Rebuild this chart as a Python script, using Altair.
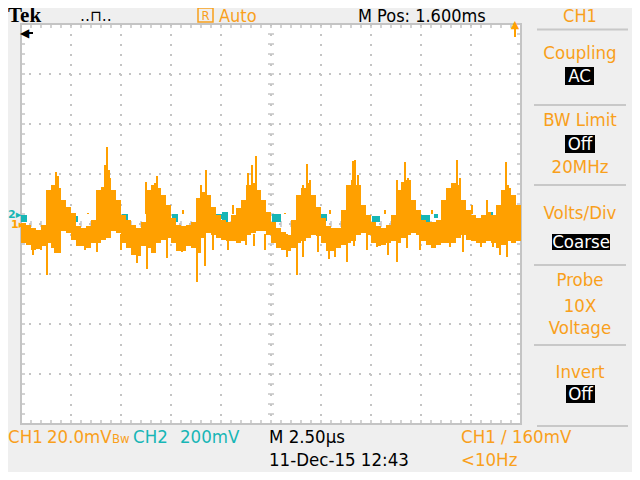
import altair as alt
import pandas as pd

# ---------------- data (CH1 in mV, time in microseconds) ----------------
# body of the CH1 trace, one column every 0.25 us (0 .. 25 us)
col_start = [i * 0.25 for i in range(100)]
body_hi = [0.4, -0.4, -1.6, -2.4, -0.4, 13.6, 15.6, 14.4, 9.6, 6.8,
           4.4, -0.8, -1.6, -0.8, 1.6, 13.6, 14.8, 18.4, 13.6, 9.6,
           3.6, 1.6, -0.4, -1.6, 0.8, 13.6, 15.6, 14.4, 11.6, 7.6,
           2.4, -0.4, -0.8, -0.4, 0.8, 10.4, 12.8, 11.6, 6.8, 3.6,
           1.6, 0.8, 3.6, 6.4, 9.6, 15.6, 16.4, 13.6, 9.6, 4.8,
           0.8, -1.6, -3.2, -4.4, 1.6, 11.6, 14.4, 16.4, 11.6, 6.8,
           2.4, -0.8, -1.6, -1.6, 5.6, 15.6, 17.6, 15.6, 7.6, 3.6,
           0.8, -0.8, -1.6, -0.4, 3.6, 13.6, 16.8, 17.6, 9.6, 5.6,
           1.6, 0.8, 0.8, 1.6, 9.6, 14.4, 16.4, 15.6, 9.6, 5.6,
           3.6, 2.4, 3.6, 4.8, 3.6, 7.6, 13.6, 14.4, 11.6, 7.6]
body_lo = [-7.6, -8.4, -10.4, -10.0, -8.8, -7.6, -9.6, -11.6, -2.8, -3.6,
           -6.4, -8.8, -8.8, -9.6, -7.6, -7.6, -6.4, -5.6, -2.8, -3.6,
           -7.6, -9.6, -12.4, -12.8, -8.8, -9.6, -11.6, -7.6, -6.4, -5.6,
           -7.6, -10.8, -10.8, -8.8, -9.6, -11.6, -5.6, -3.6, -4.4, -5.6,
           -6.4, -6.8, -6.8, -7.6, -6.8, -4.4, -3.6, -2.8, -2.8, -4.4,
           -7.6, -9.6, -10.4, -10.8, -9.6, -7.6, -6.8, -5.6, -4.4, -4.8,
           -7.6, -10.8, -10.8, -9.6, -8.4, -7.6, -6.8, -4.4, -3.6, -4.4,
           -7.6, -8.8, -8.4, -7.6, -6.8, -7.6, -5.6, -4.4, -3.6, -4.4,
           -6.8, -8.4, -9.6, -8.4, -7.6, -7.6, -7.6, -5.6, -4.4, -6.4,
           -6.8, -7.6, -7.6, -6.8, -7.6, -9.6, -8.4, -6.8, -7.6, -6.8]

# narrow spikes of the CH1 trace
spike_up_t = [1.75, 1.85, 3.35, 4.2, 4.3, 4.4, 6.25, 6.7, 6.8, 8.1, 9.0, 9.25,
              10.6, 11.35, 11.55, 11.75, 13.2, 14.1, 14.3, 14.45, 15.45, 16.6, 16.7, 16.85,
              18.2, 18.8, 19.1, 19.2, 19.35, 20.55, 21.55, 21.8, 21.95, 22.55, 23.3, 23.8,
              24.25, 24.35]
spike_up_v = [20.8, 19.2, 4.4, 23.6, 30.8, 21.6, 16.8, 16.4, 19.2, 5.6, 15.6, 21.6,
              7.6, 20.4, 23.6, 27.2, 4.4, 15.6, 24.0, 17.6, 5.6, 25.2, 25.6, 19.6,
              5.6, 17.6, 15.6, 24.8, 18.4, 5.6, 16.4, 25.6, 18.4, 7.6, 9.6, 7.6,
              24.8, 15.6]
spike_dn_t = [0.6, 1.0, 1.3, 1.7, 3.2, 3.8, 5.0, 5.8, 6.3, 7.3, 8.05, 8.8, 9.2, 9.6,
              10.35, 11.25, 11.65, 12.2, 13.3, 13.8, 14.1, 14.85, 15.4, 15.7, 16.3,
              16.65, 17.3, 17.8, 18.35, 18.8, 19.3, 19.95, 20.6, 21.45, 22.1, 23.0,
              23.6, 23.95, 24.3]
spike_dn_v = [-12.4, -10.4, -20.4, -11.6, -10.4, -11.2, -10.4, -15.6, -18.0, -13.6,
              -11.2, -23.2, -16.8, -10.4, -10.4, -8.4, -8.8, -10.4, -13.2, -20.4,
              -13.2, -11.2, -14.0, -13.2, -15.2, -8.8, -10.4, -9.2, -12.4, -15.2,
              -9.6, -10.4, -8.4, -9.2, -11.2, -9.2, -9.2, -12.4, -13.2]

# CH2 trace: only the pieces that show between CH1
ch2_t0 = [0.0, 2.55, 4.6, 5.05, 7.55, 9.75, 10.05, 12.55, 14.45, 14.85,
          16.95, 17.55, 19.95, 20.65, 22.55, 23.45, 23.8]
ch2_t1 = [0.3, 2.85, 4.85, 5.35, 7.85, 10.05, 10.35, 13.0, 14.85, 15.3,
          17.05, 17.95, 20.45, 20.85, 22.7, 23.6, 24.1]
ch2_hi = [3.6, 3.2, 4.0, 4.0, 4.0, 4.0, 4.8, 4.0, 2.4, 4.0,
          3.6, 3.2, 3.6, 4.0, 3.6, 4.8, 2.4]
ch2_lo = [0.8, 0.8, 1.6, 1.2, 0.8, 2.0, 0.8, 0.8, 0.8, 1.2,
          2.0, 0.8, 0.8, 2.4, 2.0, 3.2, 0.8]

# graticule (2.5 us/div, 20 mV/div)
grid_t = [2.5, 5.0, 7.5, 10.0, 12.5, 15.0, 17.5, 20.0, 22.5]
grid_v = [-60, -40, -20, 0, 20, 40, 60]
minor_t = [i * 0.5 for i in range(1, 50)]
minor_v = [i * 4 for i in range(-19, 20)]

# ---------------- styling ----------------
ORANGE = "#FFA000"
ORANGE_TXT = "#F9A01B"
CYAN = "#17B6B6"
GRID = "#C4C4C4"
FONT = "DejaVu Sans Condensed, DejaVu Sans, sans-serif"
FS = 18.5

xs = alt.Scale(domain=[0, 25], nice=False, zero=False)
ys = alt.Scale(domain=[-80, 80], nice=False, zero=False)

one = pd.DataFrame({"k": [0]})

body_df = pd.DataFrame({"t0": col_start, "t1": [c + 0.25 for c in col_start],
                        "hi": body_hi, "lo": body_lo})
up_df = pd.DataFrame({"t": spike_up_t, "v": spike_up_v, "base": [4.0] * len(spike_up_t)})
dn_df = pd.DataFrame({"t": spike_dn_t, "v": spike_dn_v, "base": [-4.0] * len(spike_dn_t)})
ch2_df = pd.DataFrame({"t0": ch2_t0, "t1": ch2_t1, "hi": ch2_hi, "lo": ch2_lo})
gt_df = pd.DataFrame({"t": grid_t})
gv_df = pd.DataFrame({"v": grid_v})
mt_df = pd.DataFrame({"t": minor_t, "a": [-1.2] * len(minor_t), "b": [1.2] * len(minor_t)})
mv_df = pd.DataFrame({"v": minor_v, "a": [12.35] * len(minor_v), "b": [12.65] * len(minor_v)})

X = lambda f: alt.X(f, scale=xs, axis=None)
Y = lambda f: alt.Y(f, scale=ys, axis=None)

layers = []
# dotted graticule
layers.append(alt.Chart(gt_df).mark_rule(color=GRID, strokeWidth=2, strokeDash=[2, 8]).encode(x=X("t:Q")))
layers.append(alt.Chart(gv_df).mark_rule(color=GRID, strokeWidth=2, strokeDash=[2, 8]).encode(y=Y("v:Q")))
# centre cross ticks
layers.append(alt.Chart(mt_df).mark_rule(color=GRID, strokeWidth=1.5).encode(x=X("t:Q"), y=Y("a:Q"), y2="b:Q"))
layers.append(alt.Chart(mv_df).mark_rule(color=GRID, strokeWidth=1.5).encode(y=Y("v:Q"), x=X("a:Q"), x2="b:Q"))
# border ticks
layers.append(alt.Chart(pd.DataFrame({"t": minor_t})).mark_rule(color=GRID, strokeWidth=1.5).encode(x=X("t:Q"), y=alt.value(0), y2=alt.value(4)))
layers.append(alt.Chart(pd.DataFrame({"t": minor_t})).mark_rule(color=GRID, strokeWidth=1.5).encode(x=X("t:Q"), y=alt.value(396), y2=alt.value(400)))
layers.append(alt.Chart(pd.DataFrame({"v": minor_v})).mark_rule(color=GRID, strokeWidth=1.5).encode(y=Y("v:Q"), x=alt.value(0), x2=alt.value(4)))
layers.append(alt.Chart(pd.DataFrame({"v": minor_v})).mark_rule(color=GRID, strokeWidth=1.5).encode(y=Y("v:Q"), x=alt.value(496), x2=alt.value(500)))

# CH2 then CH1
layers.append(alt.Chart(ch2_df).mark_rect(color=CYAN).encode(x=X("t0:Q"), x2="t1:Q", y=Y("hi:Q"), y2="lo:Q"))
layers.append(alt.Chart(body_df).mark_rect(color=ORANGE).encode(x=X("t0:Q"), x2="t1:Q", y=Y("hi:Q"), y2="lo:Q"))
layers.append(alt.Chart(up_df).mark_rule(color=ORANGE, strokeWidth=2).encode(x=X("t:Q"), y=Y("v:Q"), y2="base:Q"))
layers.append(alt.Chart(dn_df).mark_rule(color=ORANGE, strokeWidth=2).encode(x=X("t:Q"), y=Y("v:Q"), y2="base:Q"))


def label(s, x, y, color, size=FS, align="left", font=FONT, weight="normal", baseline="middle"):
    return alt.Chart(one).mark_text(text=s, color=color, fontSize=size, align=align,
                                    baseline=baseline, font=font, fontWeight=weight).encode(
        x=alt.value(x), y=alt.value(y))


def box(x1, x2, y1, y2, color="black"):
    return alt.Chart(one).mark_rect(color=color).encode(
        x=alt.value(x1), x2=alt.value(x2), y=alt.value(y1), y2=alt.value(y2))


def hline(x1, x2, y, color="#C8C8C8", w=2):
    return alt.Chart(one).mark_rule(color=color, strokeWidth=w).encode(
        x=alt.value(x1), x2=alt.value(x2), y=alt.value(y))


def vline(x, y1, y2, color, w=2):
    return alt.Chart(one).mark_rule(color=color, strokeWidth=w).encode(
        x=alt.value(x), y=alt.value(y1), y2=alt.value(y2))


# header
layers.append(label("Tek", -13, -2, "black", size=21, font="Liberation Serif", weight="bold", baseline="alphabetic"))
layers.append(label("‥⊓‥", 59, -3, "black", size=15, font="DejaVu Sans", baseline="alphabetic"))
layers.append(alt.Chart(one).mark_rect(filled=False, stroke=ORANGE_TXT, strokeWidth=1.5).encode(
    x=alt.value(177), x2=alt.value(192), y=alt.value(-16), y2=alt.value(-2)))
layers.append(label("R", 184.5, -4.5, ORANGE_TXT, size=13, align="center", baseline="alphabetic"))
layers.append(label("Auto", 198, -2, ORANGE_TXT, size=18, baseline="alphabetic"))
layers.append(label("M Pos: 1.600ms", 337, -2, "black", size=18, baseline="alphabetic"))
layers.append(label("CH1", 559, -2, ORANGE_TXT, size=18, align="center", baseline="alphabetic"))

# markers
layers.append(label("◀", -1, 9, "black", size=12, font="DejaVu Sans"))
layers.append(hline(5, 12, 9, color="black", w=2))
layers.append(label("▲", 494, 1, ORANGE, size=11, align="center", font="DejaVu Sans"))
layers.append(vline(494, 4, 13, ORANGE, w=2))
layers.append(label("2▸", -13, 191, CYAN, size=11, font="DejaVu Sans", weight="bold"))
layers.append(label("1▸", -10, 201, ORANGE, size=11, font="DejaVu Sans", weight="bold"))

# side panel
layers.append(hline(516, 607, 5.5))
layers.append(label("Coupling", 559, 29, ORANGE_TXT, align="center"))
layers.append(box(544, 573, 43, 61))
layers.append(label("AC", 558.5, 52, "white", align="center"))
layers.append(hline(513, 605, 81))
layers.append(label("BW Limit", 559, 96, ORANGE_TXT, align="center"))
layers.append(box(544, 574, 111, 129))
layers.append(label("Off", 559, 120, "white", align="center"))
layers.append(label("20MHz", 559, 143, ORANGE_TXT, align="center"))
layers.append(hline(513, 605, 161))
layers.append(label("Volts/Div", 559, 189, ORANGE_TXT, align="center"))
layers.append(box(531, 589, 210, 226))
layers.append(label("Coarse", 560, 218, "white", align="center"))
layers.append(hline(513, 605, 241))
layers.append(label("Probe", 559, 256, ORANGE_TXT, align="center"))
layers.append(label("10X", 559, 282, ORANGE_TXT, align="center"))
layers.append(label("Voltage", 559, 304, ORANGE_TXT, align="center"))
layers.append(hline(513, 605, 321))
layers.append(label("Invert", 559, 348, ORANGE_TXT, align="center"))
layers.append(box(545, 574, 361, 379))
layers.append(label("Off", 559.5, 370, "white", align="center"))
layers.append(hline(516, 607, 402))

# footer
layers.append(label("CH1", -13, 413, ORANGE_TXT))
layers.append(label("20.0mV", 26, 413, ORANGE_TXT))
layers.append(label("Bw", 91, 415, ORANGE_TXT, size=13))
layers.append(label("CH2", 112, 413, CYAN))
layers.append(label("200mV", 159, 413, CYAN))
layers.append(label("M 2.50µs", 248, 413, "black"))
layers.append(label("CH1 / 160mV", 440, 413, ORANGE_TXT))
layers.append(label("11-Dec-15 12:43", 248, 436, "black"))
layers.append(label("<10Hz", 440, 436, ORANGE_TXT))

chart = alt.layer(*layers).properties(
    width=500, height=400,
    padding={"left": 13, "top": 16, "right": 111, "bottom": 48},
    autosize=alt.AutoSizeParams(type="none"),
    background="#EFEFEF",
).configure_view(fill="white", stroke="#C4C4C4", strokeWidth=2)

chart.save("out.html", embed_options={"renderer": "svg", "actions": False})
